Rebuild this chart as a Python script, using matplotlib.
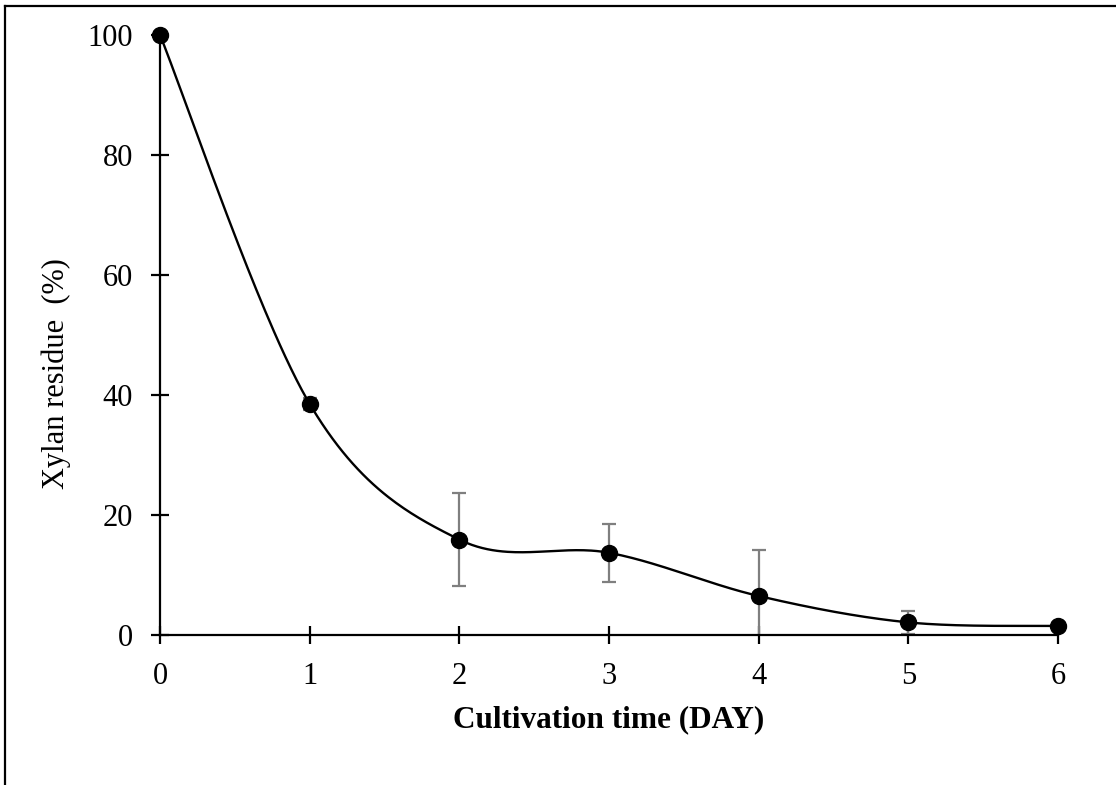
import numpy as np
import matplotlib.pyplot as plt
from matplotlib.lines import Line2D

plt.rcParams['font.family'] = ['Liberation Serif', 'DejaVu Serif']

# data
days = [0, 1, 2, 3, 4, 5, 6]
residue = [100, 38.5, 15.9, 13.7, 6.5, 2.1, 1.5]
err = [0, 1.0, 7.7, 4.8, 7.6, 1.9, 0]
xticks = [0, 1, 2, 3, 4, 5, 6]
yticks = [0, 20, 40, 60, 80, 100]


def excel_smooth(x, y, n=60):
    # Bezier smoothing like Excel's "smoothed line" (Catmull-Rom style)
    p = np.column_stack([x, y]).astype(float)
    pts = []
    for i in range(len(p) - 1):
        p0 = p[i - 1] if i > 0 else p[i]
        p1, p2 = p[i], p[i + 1]
        p3 = p[i + 2] if i + 2 < len(p) else p[i + 1]
        c1 = p1 + (p2 - p0) / 6
        c2 = p2 - (p3 - p1) / 6
        t = np.linspace(0, 1, n)[:, None]
        seg = ((1 - t) ** 3) * p1 + 3 * ((1 - t) ** 2) * t * c1 + 3 * (1 - t) * t ** 2 * c2 + t ** 3 * p2
        pts.append(seg)
    pts = np.vstack(pts)
    return pts[:, 0], pts[:, 1]


fig = plt.figure(figsize=(11.16, 7.85), dpi=100)
ax = fig.add_axes([0.1434, 0.1911, 0.8047, 0.7643])

sx, sy = excel_smooth(days, residue)
ax.plot(sx, sy, color='black', linewidth=1.7, zorder=3)
ax.errorbar(days, residue, yerr=err, fmt='none', ecolor='#7f7f7f',
            elinewidth=1.6, capsize=5, capthick=1.6, zorder=2)
ax.plot(days, residue, 'o', color='black', markersize=11.5, zorder=4,
        clip_on=False)

ax.set_xlim(0, 6)
ax.set_ylim(0, 100)
ax.set_xticks(xticks)
ax.set_yticks(yticks)
for s in ['top', 'right']:
    ax.spines[s].set_visible(False)
for s in ['left', 'bottom']:
    ax.spines[s].set_linewidth(1.6)
ax.tick_params(axis='both', direction='inout', length=13, width=1.6,
               labelsize=22)
ax.tick_params(axis='x', pad=13)
ax.tick_params(axis='y', pad=13)

ax.set_xlabel('Cultivation time (DAY)', fontsize=22.5, fontweight='bold',
              labelpad=10)
ax.set_ylabel('Xylan residue  (%)', fontsize=22)
ax.yaxis.set_label_coords(-0.099, 0.435)

# border lines of the chart area (cropped frame)
fig.add_artist(Line2D([5 / 1116, 5 / 1116], [0, 1 - 6 / 785],
                      transform=fig.transFigure, color='black', linewidth=1.6))
fig.add_artist(Line2D([5 / 1116, 1], [1 - 6 / 785, 1 - 6 / 785],
                      transform=fig.transFigure, color='black', linewidth=1.6))

plt.savefig('out.png', dpi=100)
